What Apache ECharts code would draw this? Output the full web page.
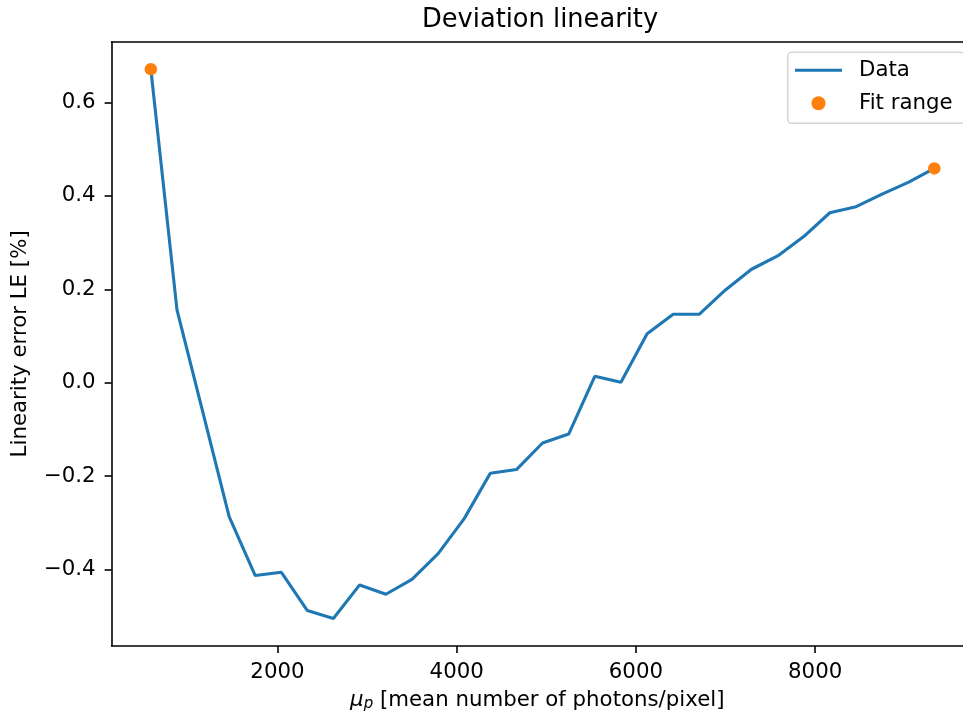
<!DOCTYPE html>
<html>
<head>
<meta charset="utf-8">
<script src="https://cdn.jsdelivr.net/npm/echarts@6/dist/echarts.min.js"></script>
<style>
html,body{margin:0;padding:0;background:#fff;}
#chart{width:963px;height:718px;}
</style>
</head>
<body>
<div id="chart"></div>
<script>
// Mean number of photons per pixel (x)
var photons = [587, 879, 1170, 1461, 1752, 2044, 2334, 2624, 2917, 3210, 3501, 3793, 4084, 4375, 4667, 4958, 5250, 5541, 5833, 6125, 6416, 6706, 6999, 7290, 7582, 7873, 8164, 8457, 8747, 9039, 9330];
// Linearity error LE [%] (y)
var linearityError = [0.6715, 0.156, -0.065, -0.287, -0.413, -0.406, -0.488, -0.505, -0.433, -0.453, -0.421, -0.366, -0.291, -0.194, -0.186, -0.129, -0.110, 0.0137, 0.0009, 0.105, 0.1466, 0.1466, 0.1986, 0.243, 0.2715, 0.313, 0.364, 0.377, 0.404, 0.429, 0.459];
// Fit range end points
var fitX = [587, 9330];
var fitY = [0.6715, 0.459];
// Tick values
var xTicks = [2000, 4000, 6000, 8000];
var yTicks = [-0.4, -0.2, 0.0, 0.2, 0.4, 0.6];

var FONT = 'DejaVu Sans';
var FS = 21.3;
var chart = echarts.init(document.getElementById('chart'), null, {renderer: 'canvas'});

var dataPairs = photons.map(function (x, i) { return [x, linearityError[i]]; });
var fitPairs = fitX.map(function (x, i) { return [x, fitY[i]]; });

var X_MIN = 149.4, X_MAX = 9650;

chart.setOption({
  animation: false,
  backgroundColor: '#ffffff',
  textStyle: {fontFamily: FONT},
  title: {
    text: 'Deviation linearity',
    left: 422,
    top: 7.5,
    padding: 0,
    textStyle: {fontFamily: FONT, fontSize: 25.7, fontWeight: 'normal', color: '#000', lineHeight: 26}
  },
  grid: {
    left: 111,
    right: 0,
    top: 41.7,
    bottom: 72,
    show: false
  },
  legend: {
    orient: 'vertical',
    left: 787.7,
    top: 52.3,
    padding: [6, 12, 8, 7.3],
    itemWidth: 47,
    itemHeight: 14,
    itemGap: 9,
    backgroundColor: 'rgba(255,255,255,0.8)',
    borderColor: '#d6d6d6',
    borderWidth: 1.6,
    borderRadius: 4,
    textStyle: {fontFamily: FONT, fontSize: FS, lineHeight: 24, color: '#000', padding: [0, 0, 0, 12]},
    data: [
      {name: 'Data', icon: 'path://M0,0 L47,0 L47,3.1 L0,3.1 Z'},
      {name: 'Fit range', icon: 'circle'}
    ]
  },
  xAxis: [
    {
      type: 'value',
      position: 'bottom',
      min: X_MIN,
      max: X_MAX,
      name: '{i|μ}{s|p}{n| [mean number of photons/pixel]}',
      nameLocation: 'middle',
      nameGap: 42,
      nameTextStyle: {
        color: '#000',
        fontFamily: FONT,
        fontSize: FS,
        lineHeight: 25,
        rich: {
          i: {fontFamily: FONT, fontStyle: 'italic', fontSize: FS, color: '#000'},
          s: {fontFamily: FONT, fontStyle: 'italic', fontSize: 15, color: '#000', padding: [8, 0, 0, 0]},
          n: {fontFamily: FONT, fontSize: FS, color: '#000'}
        }
      },
      axisLine: {show: true, onZero: false, lineStyle: {color: '#000', width: 1.6}},
      axisTick: {show: true, length: 7, inside: false, lineStyle: {color: '#000', width: 1.6}, customValues: xTicks},
      axisLabel: {
        show: true,
        margin: 16,
        color: '#000',
        fontFamily: FONT,
        fontSize: FS,
        customValues: xTicks,
        formatter: function (v) { return String(Math.round(v)); }
      },
      splitLine: {show: false}
    },
    {
      type: 'value',
      position: 'top',
      min: X_MIN,
      max: X_MAX,
      axisLine: {show: true, onZero: false, lineStyle: {color: '#000', width: 1.6}},
      axisTick: {show: false},
      axisLabel: {show: false},
      splitLine: {show: false}
    }
  ],
  yAxis: {
    type: 'value',
    min: -0.5638,
    max: 0.7303,
    name: 'Linearity error LE [%]',
    nameLocation: 'middle',
    nameRotate: 90,
    nameGap: 74,
    nameTextStyle: {color: '#000', fontFamily: FONT, fontSize: FS, lineHeight: 25},
    axisLine: {show: true, onZero: false, lineStyle: {color: '#000', width: 1.6}},
    axisTick: {show: true, length: 7, inside: false, lineStyle: {color: '#000', width: 1.6}, customValues: yTicks},
    axisLabel: {
      show: true,
      margin: 16,
      color: '#000',
      fontFamily: FONT,
      fontSize: FS,
      customValues: yTicks,
      formatter: function (v) {
        var r = Math.round(v * 10) / 10;
        return (r < 0 ? '\u2212' : '') + Math.abs(r).toFixed(1);
      }
    },
    splitLine: {show: false}
  },
  series: [
    {
      name: 'Data',
      type: 'line',
      xAxisIndex: 0,
      data: dataPairs,
      symbol: 'none',
      showSymbol: false,
      lineStyle: {color: '#1f77b4', width: 3.1},
      itemStyle: {color: '#1f77b4'},
      z: 2
    },
    {
      name: 'Fit range',
      type: 'scatter',
      xAxisIndex: 0,
      data: fitPairs,
      symbol: 'circle',
      symbolSize: 12.5,
      itemStyle: {color: '#ff7f0e', opacity: 1},
      z: 3
    }
  ]
});
</script>
</body>
</html>
